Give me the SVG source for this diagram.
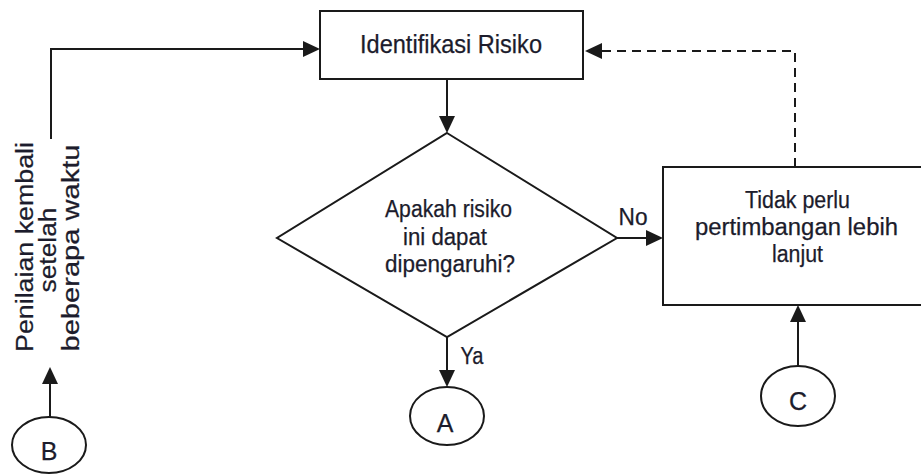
<svg xmlns="http://www.w3.org/2000/svg" width="921" height="475" viewBox="0 0 921 475">
  <style>
    .shape { fill: #ffffff; stroke: #1a1a1a; stroke-width: 2; }
    .line { fill: none; stroke: #1a1a1a; stroke-width: 2; }
    .dash { fill: none; stroke: #1a1a1a; stroke-width: 2; stroke-dasharray: 9 6; }
    text { font-family: "Liberation Sans", Arial, sans-serif; fill: #1c1c2c; stroke: #1c1c2c; stroke-width: 0.25; text-anchor: middle; }
    .t24 { font-size: 25px; }
    .t22 { font-size: 23px; }
    .rot { font-size: 23px; }
  </style>
  <defs>
    <marker id="arrow" markerUnits="userSpaceOnUse" markerWidth="18" markerHeight="16" refX="13" refY="8" orient="auto" viewBox="0 0 17 16">
      <path d="M0,0 L17,8 L0,16 z" fill="#1a1a1a"/>
    </marker>
  </defs>
  <rect x="0" y="0" width="921" height="475" fill="#ffffff"/>

  <g id="connectors">
    <polyline class="line" points="51,139 51,49 316,49" marker-end="url(#arrow)"/>
    <line class="line" x1="50" y1="417" x2="50" y2="371" marker-end="url(#arrow)"/>
    <line class="line" x1="447" y1="79" x2="447" y2="129" marker-end="url(#arrow)"/>
    <line class="line" x1="617" y1="238" x2="659" y2="238" marker-end="url(#arrow)"/>
    <line class="line" x1="447" y1="337" x2="447" y2="383" marker-end="url(#arrow)"/>
    <line class="line" x1="798" y1="366" x2="798" y2="309" marker-end="url(#arrow)"/>
    <polyline class="dash" points="795,167 795,51 589,51" marker-end="url(#arrow)"/>
    <text class="t22" x="633" y="225" textLength="29" lengthAdjust="spacingAndGlyphs">No</text>
    <text class="t22" x="472" y="364" textLength="23" lengthAdjust="spacingAndGlyphs">Ya</text>
    <text class="rot" transform="translate(33,247) rotate(-90)" textLength="210" lengthAdjust="spacingAndGlyphs">Penilaian kembali</text>
    <text class="rot" transform="translate(56,250) rotate(-90)" textLength="85" lengthAdjust="spacingAndGlyphs">setelah</text>
    <text class="rot" transform="translate(79,248) rotate(-90)" textLength="207" lengthAdjust="spacingAndGlyphs">beberapa waktu</text>
  </g>

  <g id="node-identifikasi">
    <rect class="shape" x="320" y="11" width="263" height="68"/>
    <text class="t24" x="451" y="53" textLength="182" lengthAdjust="spacingAndGlyphs">Identifikasi Risiko</text>
  </g>

  <g id="node-decision">
    <polygon class="shape" points="447,133 617,238 447,337 277,238"/>
    <text class="t22" x="448.5" y="217" textLength="127" lengthAdjust="spacingAndGlyphs">Apakah risiko</text>
    <text class="t22" x="445" y="245" textLength="84" lengthAdjust="spacingAndGlyphs">ini dapat</text>
    <text class="t22" x="450" y="272" textLength="130" lengthAdjust="spacingAndGlyphs">dipengaruhi?</text>
  </g>

  <g id="node-tidak-perlu">
    <rect class="shape" x="663" y="167" width="270" height="138"/>
    <text class="t22" x="797.5" y="208" textLength="105" lengthAdjust="spacingAndGlyphs">Tidak perlu</text>
    <text class="t22" x="796.5" y="235" textLength="203" lengthAdjust="spacingAndGlyphs">pertimbangan lebih</text>
    <text class="t22" x="797.5" y="262" textLength="51" lengthAdjust="spacingAndGlyphs">lanjut</text>
  </g>

  <g id="node-A">
    <ellipse class="shape" cx="447" cy="416" rx="37" ry="29"/>
    <text class="t24" x="445" y="432">A</text>
  </g>

  <g id="node-B">
    <ellipse class="shape" cx="49" cy="445" rx="37" ry="28"/>
    <text class="t24" x="49" y="460">B</text>
  </g>

  <g id="node-C">
    <ellipse class="shape" cx="798" cy="396" rx="37" ry="30"/>
    <text class="t24" x="798" y="410">C</text>
  </g>
</svg>
